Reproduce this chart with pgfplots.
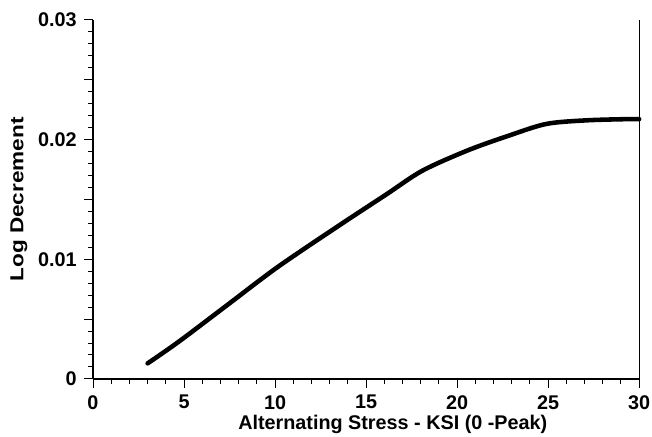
\documentclass[border=0pt]{standalone}
\usepackage{pgfplots}
\pgfplotsset{compat=1.18}
\usepackage{graphicx}
\usepackage{fontspec}
\setmainfont{Liberation Sans}
\begin{document}
\begin{tikzpicture}
\begin{axis}[
  name=ax,
  scale only axis, width=552pt, height=363pt,
  xmin=0, xmax=30, ymin=0, ymax=0.03,
  scaled y ticks=false, scaled x ticks=false,
  axis lines=left, axis line style={-, line width=1.2pt, black},
  xtick={0,5,10,15,20,25,30},
  xticklabels={0,5,10,15,20,25,30},
  ytick={0,0.01,0.02,0.03},
  yticklabels={0,0.01,0.02,0.03},
  minor x tick num=4, minor y tick num=9,
  extra y ticks={0.005,0.015,0.025}, extra y tick labels={},
  extra y tick style={major tick length=9pt},
  tick align=outside, major tick length=9pt, minor tick length=5pt,
  tick style={line width=1pt, black},
  ticklabel style={font=\fontsize{20}{20}\selectfont\bfseries},
  xticklabel style={yshift=-4pt},
  yticklabel style={xshift=-4pt},
  xlabel={Alternating Stress - KSI (0 -Peak)},
  ylabel={\scalebox{1.2}[1]{Log Decrement}},
  xlabel style={font=\fontsize{20}{20}\selectfont\bfseries, xshift=27pt, yshift=1pt},
  ylabel style={font=\fontsize{19}{19}\selectfont\bfseries, yshift=-14pt},
  clip=false,
]
\addplot[black, line width=4.6pt, smooth, line cap=round] coordinates {
  (3.0,0.0013) (4.7,0.0031) (7.4,0.0062) (10.1,0.0093) (13.4,0.0127)
  (16.1,0.0154) (18.1,0.0174) (20.6,0.0191) (22.8,0.0203) (24.9,0.0213)
  (27.1,0.0216) (29.3,0.0217) (30.0,0.0217)
};
\draw[line width=1.2pt] (rel axis cs:1,0) -- (rel axis cs:1,1);
\end{axis}
\pgfresetboundingbox
\path ([shift={(-94pt,-58pt)}]ax.south west) rectangle ([shift={(13pt,20pt)}]ax.north east);
\end{tikzpicture}
\end{document}
